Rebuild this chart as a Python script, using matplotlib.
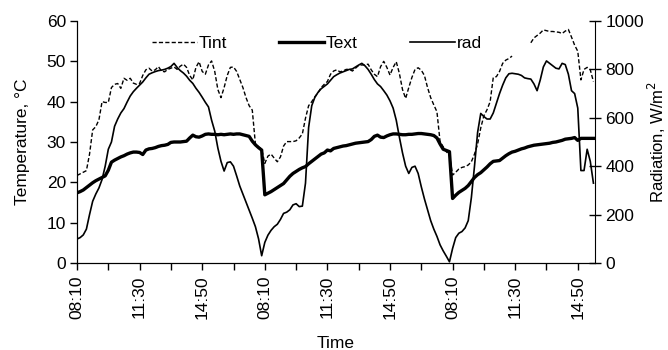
import numpy as np
import matplotlib.pyplot as plt

plt.rcParams['font.family'] = ['Liberation Sans', 'DejaVu Sans']

# 10-minute readings, three days (08:10 onwards)
t_int = [
    21.7, 22.1, 22.5, 22.9, 27.0, 33.0, 33.8, 35.5, 40.0, 39.8,
    39.8, 43.5, 44.3, 44.5, 43.3, 45.8, 45.3, 45.8, 44.6, 44.3,
    44.5, 46.5, 47.9, 48.3, 47.6, 47.9, 48.7, 47.6, 47.4, 48.0,
    48.3, 48.6, 48.0, 48.8, 49.3, 48.5, 46.5, 45.4, 48.5, 49.9,
    47.5, 46.8, 49.1, 50.1, 47.5, 43.0, 41.0, 43.5, 46.5, 48.5,
    48.6, 47.5, 45.5, 43.5, 41.0, 39.0, 37.9, 29.5, 28.8, 28.2,
    24.7, 26.5, 27.0, 26.0, 25.1, 26.3, 29.0, 30.1, 30.1, 30.1,
    30.3, 31.0, 32.0, 35.9, 39.0, 40.0, 41.2, 42.2, 43.5, 44.3,
    45.0, 46.8, 47.6, 47.9, 47.4, 47.6, 48.0, 48.0, 47.6, 48.3,
    49.0, 49.1, 49.1, 49.3, 47.9, 46.8, 46.2, 48.7, 50.0, 48.5,
    46.6, 48.5, 49.9, 47.0, 43.0, 40.8, 43.5, 46.0, 48.0, 48.4,
    47.8, 46.5, 43.5, 41.0, 39.2, 37.5, 30.1, 28.8, 27.6, 26.8,
    21.8, 22.5, 23.3, 23.7, 23.9, 24.3, 25.1, 27.0, 29.5, 33.5,
    36.5, 38.0, 40.0, 46.0, 46.2, 47.5, 49.5, 50.3, 50.7, 51.3,
    np.nan, np.nan, np.nan, np.nan, np.nan, 54.6, 55.8, 56.4, 57.0, 57.8,
    57.6, 57.4, 57.4, 57.3, 57.2, 56.9, 57.5, 57.9, 56.0, 54.0,
    52.5, 45.4, 48.0, 48.5, 47.9, 45.0,
]

t_ext = [
    17.4, 17.7, 18.1, 18.7, 19.3, 19.9, 20.4, 20.8, 21.2, 21.6,
    23.0, 25.0, 25.5, 25.9, 26.3, 26.6, 27.0, 27.3, 27.5, 27.5,
    27.4, 26.9, 28.0, 28.3, 28.4, 28.6, 28.9, 29.1, 29.2, 29.4,
    29.9, 30.0, 30.0, 30.0, 30.1, 30.2, 31.0, 31.7, 31.3, 31.2,
    31.5, 31.9, 32.0, 31.9, 31.9, 31.8, 31.9, 31.8, 31.9, 32.0,
    31.9, 32.0, 32.0, 31.8, 31.6, 31.4, 30.2, 29.3, 28.6, 28.0,
    16.9, 17.3, 17.7, 18.2, 18.7, 19.2, 19.7, 20.6, 21.5, 22.2,
    22.7, 23.2, 23.6, 23.9, 24.6, 25.2, 25.8, 26.4, 27.0, 27.3,
    28.0, 27.8, 28.4, 28.6, 28.8, 29.0, 29.1, 29.3, 29.5, 29.7,
    29.8, 29.9, 30.0, 30.1, 30.6, 31.4, 31.7, 31.2, 31.1, 31.5,
    31.8, 32.0, 32.0, 31.9, 31.8, 31.8, 31.9, 31.9, 32.0, 32.1,
    32.1, 32.0, 31.9, 31.8, 31.6, 31.0, 29.5, 28.2, 27.9, 27.6,
    16.0, 16.8, 17.5, 18.0, 18.5, 19.2, 20.2, 21.2, 21.9, 22.4,
    23.1, 23.8, 24.6, 25.2, 25.3, 25.4, 26.0, 26.6, 27.1, 27.5,
    27.7, 28.0, 28.3, 28.5, 28.8, 29.0, 29.2, 29.3, 29.4, 29.5,
    29.6, 29.7, 29.9, 30.0, 30.2, 30.4, 30.7, 30.8, 30.9, 31.1,
    30.4, 30.9, 30.9, 30.9, 30.9, 30.9,
]

rad = [
    99, 105, 116, 140, 200, 255, 285, 310, 345, 400,
    470, 500, 565, 595, 620, 638, 665, 690, 708, 722,
    735, 748, 765, 780, 786, 791, 795, 797, 800, 805,
    812, 825, 808, 795, 785, 772, 755, 742, 722, 705,
    685, 664, 645, 590, 545, 475, 420, 380, 415, 418,
    400, 360, 318, 285, 252, 218, 185, 150, 100, 30,
    85, 115, 135, 150, 160, 180, 205, 210, 220, 240,
    245, 233, 235, 330, 560, 650, 685, 705, 720, 730,
    740, 755, 770, 778, 785, 790, 795, 800, 802, 810,
    818, 825, 815, 800, 780, 758, 740, 729, 712, 694,
    670, 640, 590, 520, 455, 400, 370, 395, 400, 370,
    315, 265, 220, 175, 140, 110, 75, 50, 28, 5,
    60, 105, 123, 130, 145, 175, 270, 400, 540, 618,
    605, 595, 595, 620, 660, 700, 735, 765, 782, 784,
    782, 780, 775, 765, 762, 760, 740, 712, 756, 810,
    835, 825, 815, 805, 802, 825, 820, 780, 712, 700,
    640, 382, 382, 470, 420, 330,
]

day_labels = ['08:10', '11:30', '14:50']

x = np.arange(len(t_ext))

fig = plt.figure(figsize=(6.68, 3.5), dpi=100)
ax = fig.add_axes([0.1153, 0.2486, 0.7754, 0.6914])
ax2 = ax.twinx()

l1, = ax.plot(x, t_int, color='black', lw=1.0, ls=(0, (3, 1.6)))
l2, = ax.plot(x, t_ext, color='black', lw=2.4)
l3, = ax2.plot(x, rad, color='black', lw=1.2)

ax.set_xlim(0, 165.5)
ax.set_ylim(0, 60)
ax2.set_ylim(0, 1000)
ax.set_yticks(range(0, 61, 10))
ax2.set_yticks(range(0, 1001, 200))

ticks = np.arange(0, 166, 10)
ax.set_xticks(ticks)
labels = []
for t in ticks:
    labels.append(day_labels[(t // 20) % 3] if t % 20 == 0 else '')
ax.set_xticklabels(labels, rotation=90)

for a in (ax, ax2):
    a.spines['top'].set_visible(False)
    a.tick_params(labelsize=12.5, width=1, colors='black')
ax.spines['right'].set_visible(False)
ax.tick_params(axis='y', direction='out', length=5, pad=3)
ax.tick_params(axis='x', direction='out', length=5, pad=4)
ax2.tick_params(axis='y', direction='inout', length=9, pad=3)

ax.set_ylabel('Temperature, °C', fontsize=12.5, labelpad=12)
ax2.set_ylabel('Radiation, W/m$^2$', fontsize=12, labelpad=1)
ax.set_xlabel('Time', fontsize=12.5, labelpad=12)

ax2.legend([l1, l2, l3], ['Tint', 'Text', 'rad'], loc='center', ncol=3,
           bbox_to_anchor=(0.474, 0.877), bbox_transform=fig.transFigure,
           frameon=False, fontsize=12.5, handlelength=2.6, handletextpad=0.1,
           columnspacing=3.0)

fig.savefig('out.png', dpi=100)
